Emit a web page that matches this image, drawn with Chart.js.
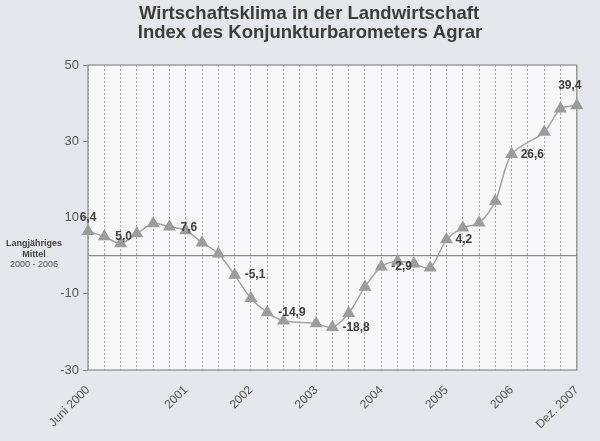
<!DOCTYPE html>
<html>
<meta charset="utf-8">
<head>
    <title>Wirtschaftsklima in der Landwirtschaft</title>
    <script src="https://cdn.jsdelivr.net/npm/chart.js@4.4.0/dist/chart.umd.min.js"></script>
    <style>
    body {
        margin: 0;
        background: #e6e6ed;
    }
    canvas {
        display: block;
    }
    </style>
</head>

<body>
    <canvas id="klima" width="600" height="441"></canvas>

    <script>
        // Quartale Juni 2000 bis Dez. 2007
        var tickLabels = ['Juni 2000', '', '', '', '', '', '2001', '', '', '', '2002', '', '', '', '2003', '',
                          '', '', '2004', '', '', '', '2005', '', '', '', '2006', '', '', '', 'Dez. 2007'];
        var indexWerte = [6.4, 5.0, 3.2, 5.8, 8.4, 7.6, 6.6, 3.4, 0.5, -5.1, -11.2, -14.9, -17.1, null, -17.8, -18.8,
                          -15.1, -8.2, -2.9, -1.5, -2.1, -3.2, 4.2, 7.3, 8.6, 14.3, 26.6, null, 32.4, 38.5, 39.4];
        var mittelWert = 0;   // Langjähriges Mittel 2000 - 2006
        var yTicks = [-30, -10, 10, 30, 50];

        var titel = ['Wirtschaftsklima in der Landwirtschaft', 'Index des Konjunkturbarometers Agrar'];
        var mittelText = ['Langjähriges', 'Mittel', '2000 - 2006'];

        // Punkte mit Beschriftung (Index, Versatz)
        var beschriftung = [
            {i: 0, dx: 0, dy: -14, align: 'center'},
            {i: 1, dx: 11, dy: 0, align: 'left'},
            {i: 5, dx: 11, dy: 1, align: 'left'},
            {i: 9, dx: 10, dy: 0, align: 'left'},
            {i: 11, dx: 11, dy: 0, align: 'left'},
            {i: 15, dx: 10, dy: 0, align: 'left'},
            {i: 18, dx: 10, dy: 0, align: 'left'},
            {i: 22, dx: 9, dy: 0, align: 'left'},
            {i: 26, dx: 9, dy: 0, align: 'left'},
            {i: 30, dx: -7, dy: -20, align: 'center'}
        ];

        var grau = '#9c9c9c';

        Chart.register({
            id: 'rahmen',
            beforeDraw: function(chart) {
                var ctx = chart.ctx, a = chart.chartArea;
                ctx.save();
                ctx.fillStyle = '#f8f8fa';
                ctx.fillRect(a.left, a.top, a.right - a.left, a.bottom - a.top);
                ctx.restore();
            },
            beforeDatasetsDraw: function(chart) {
                var ctx = chart.ctx, a = chart.chartArea;
                var y = chart.scales.y.getPixelForValue(mittelWert);
                ctx.save();
                ctx.strokeStyle = '#8a8a8a';
                ctx.lineWidth = 1.2;
                ctx.beginPath();
                ctx.moveTo(a.left, y);
                ctx.lineTo(a.right, y);
                ctx.stroke();
                ctx.strokeRect(a.left, a.top, a.right - a.left, a.bottom - a.top);
                ctx.restore();
            },
            afterDraw: function(chart) {
                var ctx = chart.ctx;
                var y = chart.scales.y.getPixelForValue(mittelWert);
                ctx.save();
                // Titel
                ctx.fillStyle = '#3c3c3c';
                ctx.textAlign = 'center';
                ctx.textBaseline = 'alphabetic';
                ctx.font = 'bold 18.5px "Liberation Sans", Arial, sans-serif';
                ctx.fillText(titel[0], 309, 19);
                ctx.fillText(titel[1], 310, 38);
                // Mittel-Text
                ctx.fillStyle = '#444';
                ctx.textBaseline = 'middle';
                ctx.font = 'bold 9px "Liberation Sans", Arial, sans-serif';
                ctx.fillText(mittelText[0], 34, y - 12);
                ctx.fillText(mittelText[1], 34, y - 1);
                ctx.font = '9px "Liberation Sans", Arial, sans-serif';
                ctx.fillStyle = '#555';
                ctx.fillText(mittelText[2], 34, y + 9);
                ctx.restore();
            },
            afterDatasetsDraw: function(chart) {
                var ctx = chart.ctx;
                var meta = chart.getDatasetMeta(0);
                ctx.save();
                ctx.fillStyle = '#404040';
                ctx.font = 'bold 12px "Liberation Sans", Arial, sans-serif';
                ctx.textBaseline = 'middle';
                beschriftung.forEach(function(b) {
                    var p = meta.data[b.i];
                    var txt = indexWerte[b.i].toFixed(1).replace('.', ',');
                    ctx.textAlign = b.align;
                    ctx.fillText(txt, p.x + b.dx, p.y + b.dy);
                });
                ctx.restore();
            }
        });

        var ctx = document.getElementById('klima').getContext('2d');
        window.myLine = new Chart(ctx, {
            type: 'line',
            data: {
                labels: tickLabels,
                datasets: [{
                    label: 'Konjunkturbarometer Agrar',
                    data: indexWerte,
                    borderColor: '#a4a4a4',
                    borderWidth: 1.5,
                    backgroundColor: grau,
                    pointStyle: 'triangle',
                    pointRadius: 6,
                    pointBackgroundColor: grau,
                    pointBorderColor: grau,
                    tension: 0.3,
                    spanGaps: true
                }]
            },
            options: {
                responsive: false,
                animation: false,
                layout: {
                    padding: {left: 0, right: 23, top: 65, bottom: 0}
                },
                plugins: {
                    legend: {display: false},
                    title: {display: false},
                    tooltip: {enabled: false}
                },
                scales: {
                    x: {
                        offset: false,
                        grid: {
                            color: '#a6a6a6',
                            lineWidth: 1,
                            drawTicks: false
                        },
                        border: {display: false, dash: [2, 2]},
                        ticks: {
                            autoSkip: false,
                            maxRotation: 45,
                            minRotation: 45,
                            padding: 13,
                            color: '#555',
                            font: {family: '"Liberation Sans", Arial, sans-serif', size: 12}
                        },
                        afterFit: function(scale) { scale.height = 71; }
                    },
                    y: {
                        min: -30,
                        max: 50,
                        afterBuildTicks: function(scale) {
                            scale.ticks = yTicks.map(function(v) { return {value: v}; });
                        },
                        grid: {
                            drawOnChartArea: false,
                            tickLength: 5,
                            color: '#8a8a8a'
                        },
                        border: {display: false},
                        ticks: {
                            padding: 4,
                            color: '#555',
                            font: {family: '"Liberation Sans", Arial, sans-serif', size: 13}
                        },
                        afterFit: function(scale) { scale.width = 88; }
                    }
                }
            }
        });
    </script>
</body>

</html>
